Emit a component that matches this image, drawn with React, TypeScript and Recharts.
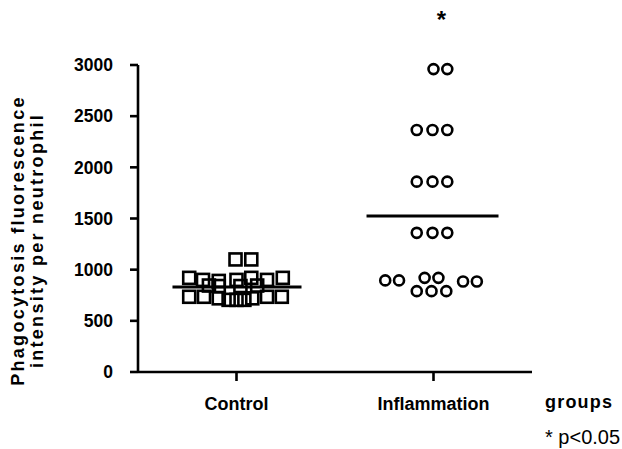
import React from "react";
import {
  ScatterChart,
  Scatter,
  XAxis,
  YAxis,
  ReferenceLine,
  ReferenceDot,
} from "recharts";

// group positions on the numeric x axis (0..4)
const groupNames = ["Control", "Inflammation"];
const groupX = [1, 3];
const yTicks = [0, 500, 1000, 1500, 2000, 2500, 3000];

// control group: jittered x position and intensity
const controlX = [
  0.99, 1.15,
  0.52, 0.66, 0.82, 1.0, 1.15, 1.31, 1.47,
  0.72, 0.82, 1.04, 1.21,
  0.52, 0.67, 0.82, 0.92, 1.0, 1.08, 1.16, 1.31, 1.46,
];
const controlY = [
  1100, 1100,
  920, 900, 890, 900, 920, 900, 920,
  845, 840, 840, 845,
  735, 735, 720, 705, 705, 705, 720, 735, 735,
];

// inflammation group
const inflX = [
  3.0, 3.14,
  2.83, 2.99, 3.14,
  2.83, 2.99, 3.14,
  2.83, 2.99, 3.14,
  2.51, 2.65, 2.91, 3.05, 3.3, 3.44,
  2.83, 2.98, 3.13,
];
const inflY = [
  2960, 2960,
  2365, 2365, 2365,
  1860, 1860, 1860,
  1360, 1360, 1360,
  895, 895, 920, 920, 885, 885,
  790, 790, 790,
];

const means = [830, 1525];
const meanSpan = [
  [0.35, 1.66],
  [2.32, 3.66],
];

const controlData = controlX.map((x, i) => ({ x, y: controlY[i] }));
const inflData = inflX.map((x, i) => ({ x, y: inflY[i] }));

const font = '"Liberation Sans", Arial, sans-serif';

const SquareMark = (props: any) => (
  <rect
    x={props.cx - 6}
    y={props.cy - 6}
    width={12}
    height={12}
    fill="none"
    stroke="#000"
    strokeWidth={2.6}
  />
);

const CircleMark = (props: any) => (
  <circle cx={props.cx} cy={props.cy} r={5} fill="none" stroke="#000" strokeWidth={2.6} />
);

const YTitle = (props: any) => {
  const vb = props.viewBox;
  const cy = vb.y + vb.height / 2 + 22;
  const style = { fontFamily: font, fontSize: 18, fontWeight: 700, letterSpacing: 2.3 };
  return (
    <g>
      <text x={18} y={cy} transform={`rotate(-90 18 ${cy})`} textAnchor="middle" dominantBaseline="central" style={style}>
        Phagocytosis fluorescence
      </text>
      <text x={37} y={cy} transform={`rotate(-90 37 ${cy})`} textAnchor="middle" dominantBaseline="central" style={style}>
        intensity per neutrophil
      </text>
    </g>
  );
};

const XExtra = (props: any) => {
  const vb = props.viewBox;
  const right = vb.x + vb.width;
  return (
    <g>
      <text x={right + 13} y={vb.y + 36} style={{ fontFamily: font, fontSize: 18, fontWeight: 700, letterSpacing: 1.2 }}>
        groups
      </text>
      <text x={right + 13} y={vb.y + 72} style={{ fontFamily: font, fontSize: 20 }}>
        * p&lt;0.05
      </text>
    </g>
  );
};

export default function App() {
  return (
    <div style={{ position: "absolute", left: 0, top: 0, background: "#fff" }}>
      <ScatterChart
        width={622}
        height={449}
        margin={{ top: 65, right: 90, bottom: 0, left: 0 }}
      >
        <XAxis
          type="number"
          dataKey="x"
          domain={[0, 4]}
          ticks={groupX}
          tickFormatter={(v: number) => groupNames[groupX.indexOf(v)]}
          height={77}
          tickSize={9}
          tickMargin={16}
          axisLine={{ stroke: "#000", strokeWidth: 2.6 }}
          tickLine={{ stroke: "#000", strokeWidth: 2.6 }}
          tick={{ fill: "#000", fontFamily: font, fontSize: 18, fontWeight: 700 }}
          label={{ content: XExtra }}
        />
        <YAxis
          type="number"
          dataKey="y"
          domain={[0, 3000]}
          ticks={yTicks}
          width={138}
          tickSize={8}
          tickMargin={17}
          axisLine={{ stroke: "#000", strokeWidth: 2.6 }}
          tickLine={{ stroke: "#000", strokeWidth: 2.6 }}
          tick={{ fill: "#000", fontFamily: font, fontSize: 17.5, fontWeight: 700 }}
          label={{ content: YTitle }}
        />
        <Scatter data={controlData} shape={SquareMark} isAnimationActive={false} />
        <Scatter data={inflData} shape={CircleMark} isAnimationActive={false} />
        {means.map((m, i) => (
          <ReferenceLine
            key={i}
            segment={[
              { x: meanSpan[i][0], y: m },
              { x: meanSpan[i][1], y: m },
            ]}
            stroke="#000"
            strokeWidth={3}
          />
        ))}
        <ReferenceDot
          x={3.08}
          y={3000}
          r={0}
          ifOverflow="visible"
          label={{
            value: "*",
            position: "top",
            offset: 37,
            fill: "#000",
            fontFamily: font,
            fontSize: 24,
            fontWeight: 700,
          }}
        />
      </ScatterChart>
    </div>
  );
}
